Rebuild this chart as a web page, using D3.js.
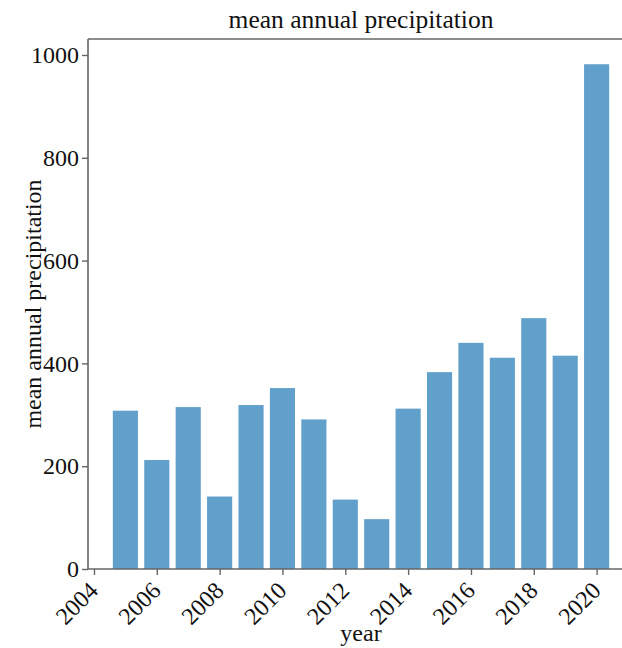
<!DOCTYPE html>
<html>
<head>
<meta charset="utf-8">
<script src="https://cdn.jsdelivr.net/npm/d3@7"></script>
<style>
  html, body { margin: 0; padding: 0; background: #fff; }
  svg { display: block; }
  text { font-family: "Liberation Serif", "Times New Roman", serif; fill: #111; }
</style>
</head>
<body>
<svg id="chart" width="622" height="648"></svg>
<script>
// Mean annual precipitation per year
const years = [2005, 2006, 2007, 2008, 2009, 2010, 2011, 2012,
               2013, 2014, 2015, 2016, 2017, 2018, 2019, 2020];
const precipitation = [308, 212, 315, 141, 319, 352, 291, 135,
                       97, 312, 383, 440, 411, 488, 415, 982];
const xTicks = [2004, 2006, 2008, 2010, 2012, 2014, 2016, 2018, 2020];
const yTicks = [0, 200, 400, 600, 800, 1000];

const titleText = "mean annual precipitation";
const xLabel = "year";
const yLabel = "mean annual precipitation";

const svg = d3.select("#chart");
const W = 622, H = 648;
const plot = { left: 88, top: 39, right: 634, bottom: 569 };
const barWidth = 0.8;
const axisColor = "#666";

// x: linear year axis with 5% padding around the bar extents
const x0 = d3.min(years) - barWidth / 2, x1 = d3.max(years) + barWidth / 2;
const pad = (x1 - x0) * 0.05;
const x = d3.scaleLinear().domain([x0 - pad, x1 + pad]).range([plot.left, plot.right]);
const y = d3.scaleLinear().domain([0, d3.max(precipitation) * 1.05]).range([plot.bottom, plot.top]);

const data = years.map((yr, i) => ({ year: yr, value: precipitation[i] }));

// bars
svg.append("g")
  .selectAll("rect")
  .data(data)
  .join("rect")
  .attr("x", d => x(d.year - barWidth / 2))
  .attr("width", d => x(d.year + barWidth / 2) - x(d.year - barWidth / 2))
  .attr("y", d => y(d.value))
  .attr("height", d => y(0) - y(d.value))
  .attr("fill", "#62a0cc");

// frame: left and top
svg.append("line").attr("x1", plot.left).attr("x2", plot.left)
  .attr("y1", plot.top).attr("y2", plot.bottom)
  .attr("stroke", axisColor).attr("stroke-width", 1.6);
svg.append("line").attr("x1", plot.left).attr("x2", W)
  .attr("y1", plot.top).attr("y2", plot.top)
  .attr("stroke", axisColor).attr("stroke-width", 1.6);

// y axis
const yAxis = svg.append("g")
  .attr("transform", `translate(${plot.left},0)`)
  .call(d3.axisLeft(y).tickValues(yTicks).tickFormat(d3.format("d")).tickSize(6).tickPadding(3));
yAxis.select(".domain").remove();
yAxis.selectAll(".tick line").attr("stroke", axisColor).attr("stroke-width", 1.4);
yAxis.selectAll(".tick text")
  .style("font-family", "'Liberation Serif', serif")
  .style("font-size", "24px").attr("fill", "#111");

// x axis
const xAxis = svg.append("g")
  .attr("transform", `translate(0,${plot.bottom})`)
  .call(d3.axisBottom(x).tickValues(xTicks).tickFormat(d3.format("d")).tickSize(6).tickPadding(4));
xAxis.select(".domain")
  .attr("d", `M${plot.left},0H${W}`)
  .attr("stroke", axisColor).attr("stroke-width", 1.6);
xAxis.selectAll(".tick line").attr("stroke", axisColor).attr("stroke-width", 1.4);
xAxis.selectAll(".tick text")
  .style("font-family", "'Liberation Serif', serif")
  .style("font-size", "24px").attr("fill", "#111")
  .attr("text-anchor", "end")
  .attr("dy", null).attr("y", null)
  .attr("transform", "translate(5,23) rotate(-45)");

// title and axis labels
svg.append("text")
  .attr("x", (plot.left + plot.right) / 2).attr("y", 28)
  .attr("text-anchor", "middle")
  .style("font-size", "25.5px")
  .text(titleText);

svg.append("text")
  .attr("x", (plot.left + plot.right) / 2).attr("y", 641)
  .attr("text-anchor", "middle")
  .style("font-size", "24px")
  .text(xLabel);

svg.append("text")
  .attr("transform", `translate(41,${(plot.top + plot.bottom) / 2}) rotate(-90)`)
  .attr("text-anchor", "middle")
  .style("font-size", "24px")
  .text(yLabel);
</script>
</body>
</html>
